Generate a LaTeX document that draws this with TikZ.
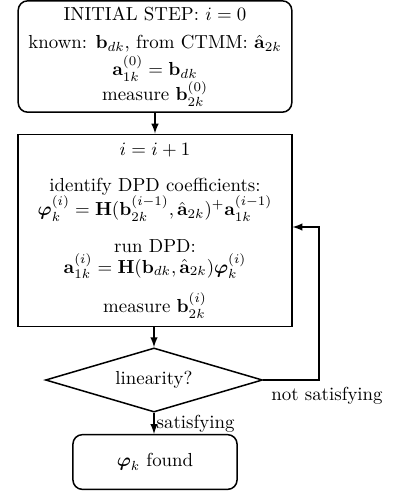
\documentclass[tikz,border=0pt]{standalone}
\usepackage{amsmath,amssymb}
\usetikzlibrary{shapes.geometric,arrows}

\tikzset{
	rblock/.style={draw, thick, rounded corners=5pt, align=center, inner sep=2pt},
	block/.style={draw, thick, align=center, inner sep=2pt},
	decide/.style={draw, thick, diamond, aspect=3.4, inner sep=1pt},
	flow/.style={->, >=latex, thick}
}

\begin{document}
\begin{tikzpicture}[x=0.53pt, y=-0.53pt]
		\useasboundingbox (0,0) rectangle (394,496);
		%start
		\node[rblock, minimum width=145pt, minimum height=59pt] (init) at (155,56.5)
			{INITIAL STEP: $i=0$\\[3pt]
			known: $\mathbf{b}_{dk}$, from CTMM: $\hat{\mathbf{a}}_{2k}$\\[1pt]
			$\mathbf{a}_{1k}^{(0)}=\mathbf{b}_{dk}$\\[-1pt]
			measure $\mathbf{b}_{2k}^{(0)}$};
		%iteration
		\node[block, minimum width=145pt, minimum height=102pt] (iter) at (155,230.5)
			{$i=i+1$\\[7.5pt]
			identify DPD coefficients:\\[-1pt]
			$\boldsymbol{\varphi}_k^{(i)}=\mathbf{H}(\mathbf{b}_{2k}^{(i-1)},\hat{\mathbf{a}}_{2k})^{+}\mathbf{a}_{1k}^{(i-1)}$\\[7.5pt]
			run DPD:\\[-1pt]
			$\mathbf{a}_{1k}^{(i)}=\mathbf{H}(\mathbf{b}_{dk},\hat{\mathbf{a}}_{2k})\boldsymbol{\varphi}_k^{(i)}$\\[6.5pt]
			measure $\mathbf{b}_{2k}^{(i)}$};
		%check
		\node[decide, minimum width=115pt, minimum height=34pt] (check) at (154,380) {linearity?};
		%end
		\node[rblock, minimum width=87pt, minimum height=29pt] (found) at (155,462) {$\boldsymbol{\varphi}_k$ found};
		\coordinate (back) at (319,380);
		\coordinate (back2) at (319,227);
		
		\draw[flow] (init) -- (init|-iter.north);
		\draw[flow] (iter.south-|check) -- (check);
		\draw[flow] (check) -- node[right, inner sep=1pt]{satisfying} (check|-found.north);
		\draw[flow] (check.east) -- (back) -- (back2) -- (iter.east|-back2);
		\node at (327,396) {not satisfying};
\end{tikzpicture}
\end{document}
